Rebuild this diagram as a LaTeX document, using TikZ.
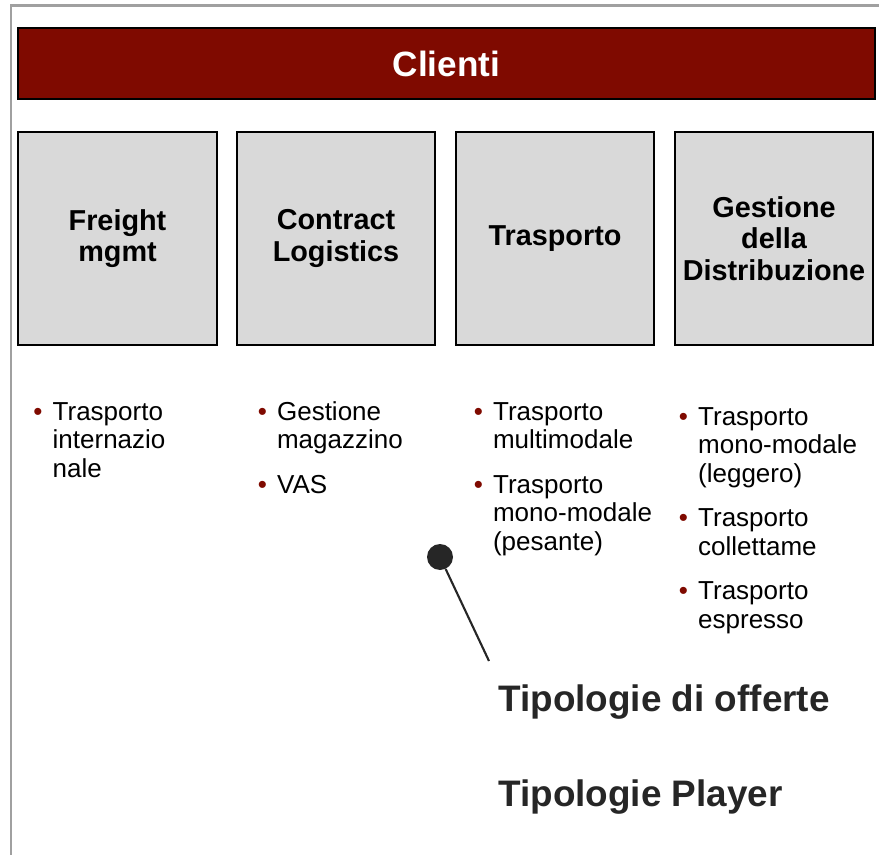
\documentclass[tikz,border=0pt]{standalone}
\usepackage{fontspec}
\setmainfont{Liberation Sans}
\usepackage{tikz}
\usetikzlibrary{calc}
\usepackage{xcolor}
\definecolor{clientred}{RGB}{127,10,0}
\definecolor{boxgray}{RGB}{217,217,217}
\definecolor{framegray}{RGB}{160,160,160}
\definecolor{pingray}{RGB}{38,38,38}
\newcommand{\bul}{\makebox[11pt][l]{\textcolor{clientred}{\textbullet}}}

\begin{document}
\begin{tikzpicture}[x=0.02cm,y=-0.02cm,
    catbox/.style={draw,line width=1.1pt,fill=boxgray,minimum width=3.97cm,
      minimum height=4.26cm,align=center,inner sep=0pt,
      font=\bfseries\fontsize{16.4}{17.8}\selectfont},
    offerlist/.style={anchor=base west,inner sep=0pt,
      font=\fontsize{14.8}{16.3}\selectfont},
    bigtitle/.style={anchor=base west,inner sep=0pt,text=pingray,
      font=\bfseries\fontsize{21}{25}\selectfont}]

  \useasboundingbox (0,0) rectangle (879,855);

  % ── frame ────────────────────────────────────────────────────────
  \draw[framegray,line width=1.6pt] (11,855)--(11,5.3)--(879,5.3);

  % ── clients bar ──────────────────────────────────────────────────
  \node[draw,line width=1.1pt,fill=clientred,minimum width=17.14cm,
        minimum height=1.42cm,text=white,
        font=\bfseries\fontsize{20}{24}\selectfont] (clienti) at (446.5,63.5)
    {Clienti};

  % ── four segments ────────────────────────────────────────────────
  \node[catbox] (freight)  at (117.5,238.5) {Freight\\mgmt};
  \node[catbox] (contract) at (336,238.5)   {Contract\\Logistics};
  \node[catbox] (trasp)    at (555,238.5)   {Trasporto};
  \node[catbox] (distrib)  at (774,238.5)   {Gestione\\della\\Distribuzione};

  % ── offer lists ──────────────────────────────────────────────────
  \node[offerlist] (offfreight) at (33,420)
    {\begin{tabular}[t]{@{}l@{}l@{}}
      \bul & Trasporto\\ & internazio\\ & nale
    \end{tabular}};
  \node[offerlist] (offcontract) at (257.4,420)
    {\begin{tabular}[t]{@{}l@{}l@{}}
      \bul & Gestione\\ & magazzino\\[9pt]
      \bul & VAS
    \end{tabular}};
  \node[offerlist] (offtrasp) at (473.4,420)
    {\begin{tabular}[t]{@{}l@{}l@{}}
      \bul & Trasporto\\ & multimodale\\[9pt]
      \bul & Trasporto\\ & mono-modale\\ & (pesante)
    \end{tabular}};
  \node[offerlist] (offdistrib) at (678.5,425)
    {\begin{tabular}[t]{@{}l@{}l@{}}
      \bul & Trasporto\\ & mono-modale\\ & (leggero)\\[9pt]
      \bul & Trasporto\\ & collettame\\[9pt]
      \bul & Trasporto\\ & espresso
    \end{tabular}};

  % ── callout ──────────────────────────────────────────────────────
  \node[circle,fill=pingray,minimum size=0.52cm,inner sep=0pt] (pin) at (440,557) {};
  \coordinate (pinend) at (489,661);
  \draw[pingray,line width=1.2pt] (pin)--(pinend);

  \node[bigtitle] (offerte) at (498,711) {Tipologie di offerte};
  \node[bigtitle] (player)  at (498,806) {Tipologie Player};

\end{tikzpicture}
\end{document}
